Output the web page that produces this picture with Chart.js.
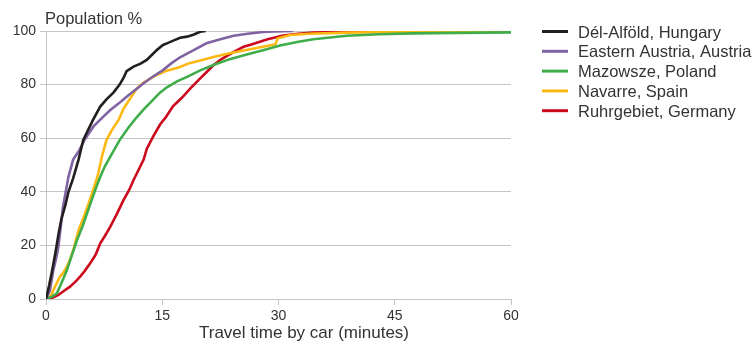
<!DOCTYPE html>
<html>
<head>
<meta charset="utf-8">
<script src="https://cdn.jsdelivr.net/npm/chart.js@4/dist/chart.umd.min.js"></script>
<style>
  html, body { margin: 0; padding: 0; background: #fff; }
  #wrap { position: relative; width: 756px; height: 344px; }
</style>
</head>
<body>
<div id="wrap"><canvas id="c" width="756" height="344"></canvas></div>
<script>
// Cumulative share of population reached within a given car travel time
const seriesNames = ["Dél-Alföld, Hungary", "Eastern Austria, Austria", "Mazowsze, Poland", "Navarre, Spain", "Ruhrgebiet, Germany"];
const seriesColors = ["#231f20", "#8064a2", "#3fad4a", "#fdb913", "#cc0a1e"];

const hungaryMinutes = [0, 0.4, 0.75, 1.2, 1.6, 2.0, 2.5, 2.9, 3.5, 4.2, 4.8, 5.5, 6.1, 7.0, 7.8, 8.7, 9.5, 10.0, 10.4, 11.3, 12.2, 13.0, 14.3, 15.1, 15.6, 16.5, 17.3, 18.2, 19.0, 19.9, 20.6];
const hungaryPct     = [0, 5, 10, 17, 24, 30, 35, 40, 45, 52, 59.3, 63.5, 67, 71.8, 74.5, 77, 80, 82.5, 85, 86.7, 87.8, 89.2, 92.9, 94.8, 95.4, 96.5, 97.5, 97.9, 98.6, 99.7, 100];

const austriaMinutes = [0, 0.5, 0.95, 1.3, 1.6, 2.2, 2.9, 3.5, 4.2, 5.0, 6.1, 7.2, 8.3, 9.4, 10.4, 11.5, 12.6, 13.8, 15.1, 16.2, 17.3, 19.0, 20.7, 22.5, 24.2, 26.0, 28.0, 29.5, 31.9];
const austriaPct     = [0, 3, 10.8, 15, 19.5, 34.4, 45.6, 52, 55, 59.5, 64.3, 67.5, 70.5, 73, 75.5, 78, 80.5, 83, 85.4, 88, 90.2, 92.8, 95.4, 96.9, 98.2, 99.0, 99.6, 99.8, 100];

const polandMinutes = [0, 0.7, 1.4, 2.0, 2.7, 3.3, 4.0, 4.7, 5.3, 5.9, 6.5, 7.0, 7.6, 8.3, 9.5, 10.6, 11.7, 12.7, 13.8, 14.7, 15.6, 16.9, 18.2, 19.9, 21.6, 23.7, 25.9, 28.0, 30.2, 32.4, 34.5, 38.8, 43.0, 47.4, 53.0, 60];
const polandPct     = [0, 0.8, 2.1, 6, 10.8, 16, 22, 27, 32, 37, 41.9, 45.6, 49.5, 53.1, 59.3, 63.8, 67.8, 71, 74.3, 77, 79, 81.2, 82.9, 85.3, 87.3, 89.5, 91.2, 92.8, 94.6, 95.9, 96.9, 98.2, 98.8, 99.1, 99.3, 99.5];

const spainMinutes = [0, 0.6, 1.16, 1.8, 2.3, 2.9, 3.5, 4.2, 4.8, 5.5, 6.0, 6.5, 6.75, 7.2, 7.8, 8.5, 9.4, 10.0, 10.8, 11.7, 12.6, 14.3, 15.6, 17.3, 18.5, 19.9, 21.6, 23.7, 26.0, 28.0, 29.6, 29.9, 31.5, 34.0, 38.8, 45, 52, 60];
const spainPct     = [0, 1, 4.6, 8.3, 10, 13.3, 18, 25.7, 30, 35.7, 40, 44.4, 47, 53, 59.3, 63, 67, 71, 74.5, 78.5, 80.8, 83.6, 85.2, 86.6, 88, 89.0, 90.3, 91.7, 93, 94.1, 95, 97.3, 98.5, 99, 99.4, 99.6, 99.7, 99.8];

const germanyMinutes = [0, 0.5, 1.0, 1.6, 2.3, 3.1, 3.8, 4.4, 5.0, 5.7, 6.4, 7.0, 7.6, 8.3, 9.1, 10.0, 10.7, 11.3, 12.0, 12.6, 13.0, 13.8, 14.7, 15.5, 16.4, 17.5, 18.6, 19.9, 20.7, 21.6, 22.5, 23.3, 24.3, 25.5, 26.5, 27.6, 28.6, 30.6, 32.5, 34.5, 38, 42, 50, 60];
const germanyPct     = [0, 0, 0.7, 1.5, 3, 4.6, 6.5, 8.3, 10.5, 13.3, 16.5, 20.8, 23.5, 27, 31.5, 36.9, 40.5, 44.4, 48.5, 52, 56, 60.5, 65, 68, 72, 75, 78.5, 82.3, 84.6, 87.2, 89.2, 90.6, 92.3, 94.1, 95, 96, 96.9, 98.3, 99, 99.4, 99.7, 99.9, 100, 100];

const xTicks = [0, 15, 30, 45, 60];
const yTicks = [0, 20, 40, 60, 80, 100];
const yTitle = "Population %";
const xTitle = "Travel time by car (minutes)";

const seriesMinutes = [hungaryMinutes, austriaMinutes, polandMinutes, spainMinutes, germanyMinutes];
const seriesPct = [hungaryPct, austriaPct, polandPct, spainPct, germanyPct];

const FONT = "'Liberation Sans', Arial, Helvetica, sans-serif";
const TEXT = "#333333";
const GRID = "#c4c4c4";

const datasets = seriesNames.map((name, i) => ({
  label: name,
  data: seriesMinutes[i].map((m, j) => ({ x: m, y: seriesPct[i][j] })),
  borderColor: seriesColors[i],
  backgroundColor: seriesColors[i],
  borderWidth: 2.6,
  pointRadius: 0,
  tension: 0,
  fill: false
}));

// Titles and legend drawn onto the canvas after the chart
const annotations = {
  id: 'annotations',
  afterDraw(chart) {
    const ctx = chart.ctx;
    const area = chart.chartArea;
    ctx.save();
    ctx.fillStyle = TEXT;
    ctx.textBaseline = 'alphabetic';
    ctx.font = "16.5px " + FONT;
    ctx.textAlign = 'left';
    ctx.fillText(yTitle, area.left - 1, 24);

    ctx.font = "17px " + FONT;
    ctx.textAlign = 'center';
    ctx.fillText(xTitle, 304, 338);

    ctx.font = "16.5px " + FONT;
    ctx.textAlign = 'left';
    seriesNames.forEach((name, i) => {
      const cy = 31.5 + i * 19.8;
      ctx.strokeStyle = seriesColors[i];
      ctx.lineWidth = 3;
      ctx.beginPath();
      ctx.moveTo(542, cy);
      ctx.lineTo(568, cy);
      ctx.stroke();
      ctx.fillStyle = TEXT;
      ctx.fillText(name, 578, cy + 6);
    });
    ctx.restore();
  }
};

new Chart(document.getElementById('c'), {
  type: 'line',
  data: { datasets },
  options: {
    responsive: false,
    animation: false,
    devicePixelRatio: 1,
    layout: { padding: { left: 0, right: 245, top: 31, bottom: 0 } },
    plugins: { legend: { display: false }, tooltip: { enabled: false }, title: { display: false } },
    scales: {
      x: {
        type: 'linear',
        min: 0, max: 60,
        afterBuildTicks(scale) { scale.ticks = xTicks.map(v => ({ value: v })); },
        afterFit(scale) { scale.height = 45; },
        ticks: { color: TEXT, font: { family: FONT, size: 14 }, padding: 3, maxRotation: 0 },
        grid: { drawOnChartArea: false, drawTicks: true, tickLength: 6, color: GRID },
        border: { color: GRID, width: 1 }
      },
      y: {
        type: 'linear',
        min: 0, max: 100,
        afterBuildTicks(scale) { scale.ticks = yTicks.map(v => ({ value: v })); },
        afterFit(scale) { scale.width = 46; },
        ticks: { color: TEXT, font: { family: FONT, size: 14 }, padding: 4 },
        grid: { color: GRID, tickLength: 6, drawTicks: true },
        border: { color: GRID, width: 1 }
      }
    }
  },
  plugins: [annotations]
});
</script>
</body>
</html>
